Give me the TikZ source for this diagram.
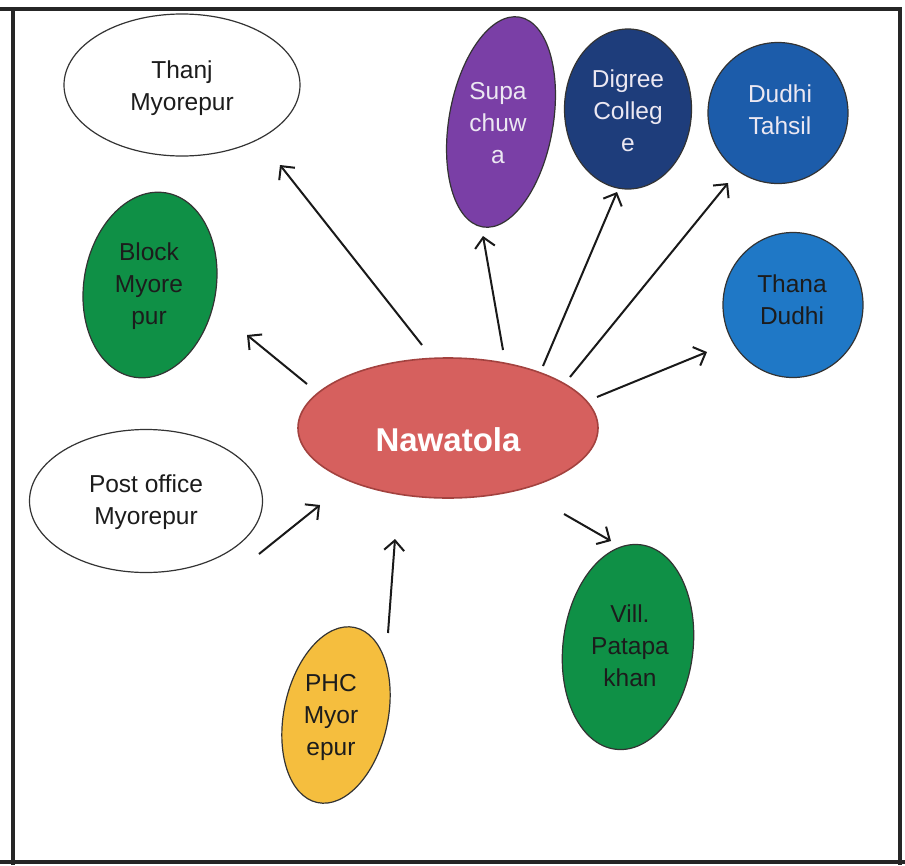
\documentclass[tikz,border=0pt]{standalone}
\usepackage{fontspec}
\setmainfont{Liberation Sans}
\usetikzlibrary{arrows.meta,shapes.geometric}

\definecolor{cNaw}{HTML}{D6605E}
\definecolor{cNawD}{HTML}{A3423F}
\definecolor{cSup}{HTML}{7A3FA6}
\definecolor{cDeg}{HTML}{1E3D7B}
\definecolor{cTah}{HTML}{1C5CAA}
\definecolor{cTha}{HTML}{1F78C6}
\definecolor{cGrn}{HTML}{0F9046}
\definecolor{cPHC}{HTML}{F5BE3E}
\definecolor{cLight}{HTML}{ECE8F2}
\definecolor{cInk}{HTML}{1C1C1C}

\begin{document}
\begin{tikzpicture}[x=1pt,y=-1pt,
  bubble/.style={ellipse, inner sep=0pt, line width=1.2pt, draw=black!80},
  lbl/.style={align=center, inner sep=0pt, font=\fontsize{24.5}{32}\selectfont},
  link/.style={line width=2pt, black!90, -{Straight Barb[length=10pt,width=20pt,line width=2pt]}},
  frame/.style={line width=3.8pt, black!85}]

% canvas
\fill[white] (0,0) rectangle (905,865);
\useasboundingbox (0,0) rectangle (905,865);

% outer frame
\draw[frame] (0,9) -- (900,9) -- (900,865);
\draw[frame] (13,9) -- (13,865);
\draw[frame] (0,862) -- (905,862);

% centre node
\node[bubble, fill=cNaw, draw=cNawD, line width=1.6pt, minimum width=300, minimum height=140] (naw) at (448,428) {};
\node[lbl, text=white, font=\fontsize{33}{40}\selectfont\bfseries] (nawt) at (448,440) {Nawatola};

% surrounding places
\node[bubble, fill=white, minimum width=236, minimum height=142] (thanj) at (182,85) {};
\node[lbl, text=cInk] (thanjt) at (182,88) {Thanj\\Myorepur};

\node[bubble, fill=cGrn, minimum width=132, minimum height=187, rotate=-10] (blk) at (150,285) {};
\node[lbl, text=cInk] (blkt) at (149,286) {Block\\Myore\\pur};

\node[bubble, fill=white, minimum width=233, minimum height=143] (post) at (146,501) {};
\node[lbl, text=cInk] (postt) at (146,502) {Post office\\Myorepur};

\node[bubble, fill=cPHC, minimum width=104, minimum height=179, rotate=-12] (phc) at (336,715) {};
\node[lbl, text=cInk] (phct) at (331,717) {PHC\\Myor\\epur};

\node[bubble, fill=cGrn, minimum width=130, minimum height=206, rotate=-7] (vill) at (628,647) {};
\node[lbl, text=cInk] (villt) at (630,646) {Vill.\\Patapa\\khan};

\node[bubble, fill=cSup, minimum width=104, minimum height=213, rotate=-10] (sup) at (501,122) {};
\node[lbl, text=cLight] (supt) at (498,123) {Supa\\chuw\\a};

\node[bubble, fill=cDeg, minimum width=127, minimum height=160] (deg) at (628,109) {};
\node[lbl, text=cLight] (degt) at (628,111) {Digree\\Colleg\\e};

\node[bubble, fill=cTah, minimum width=140, minimum height=141] (tah) at (778,113) {};
\node[lbl, text=cLight] (taht) at (780,110) {Dudhi\\Tahsil};

\node[bubble, fill=cTha, minimum width=140, minimum height=145] (tha) at (793,305) {};
\node[lbl, text=cInk] (that) at (792,300) {Thana\\Dudhi};

% connector end points
\coordinate (s1) at (422,345); \coordinate (e1) at (280,165);
\coordinate (s2) at (307,384); \coordinate (e2) at (247,335);
\coordinate (s3) at (503,350); \coordinate (e3) at (483,236);
\coordinate (s4) at (543,366); \coordinate (e4) at (617,192);
\coordinate (s5) at (570,377); \coordinate (e5) at (728,183);
\coordinate (s6) at (597,397); \coordinate (e6) at (707,352);
\coordinate (s7) at (564,514); \coordinate (e7) at (611,541);
\coordinate (s8) at (388,633); \coordinate (e8) at (395,539);
\coordinate (s9) at (259,554); \coordinate (e9) at (320,505);

% outward links
\draw[link] (s1) -- (e1);
\draw[link] (s2) -- (e2);
\draw[link] (s3) -- (e3);
\draw[link] (s4) -- (e4);
\draw[link] (s5) -- (e5);
\draw[link] (s6) -- (e6);
\draw[link] (s7) -- (e7);
% inward links
\draw[link] (s8) -- (e8);
\draw[link] (s9) -- (e9);
\end{tikzpicture}
\end{document}
